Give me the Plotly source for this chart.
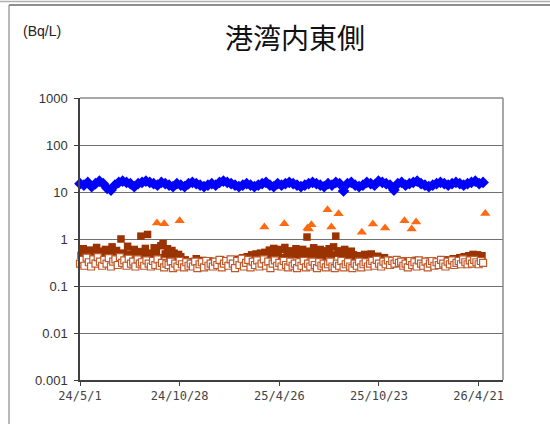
import pandas as pd
import plotly.graph_objects as go

# ---- data ----
title_text = "港湾内東側"
unit_text = "(Bq/L)"

x_tick_dates = ["2024-05-01", "2024-10-28", "2025-04-26", "2025-10-23", "2026-04-21"]
x_tick_labels = ["24/5/1", "24/10/28", "25/4/26", "25/10/23", "26/4/21"]
y_tick_vals = [0.001, 0.01, 0.1, 1, 10, 100, 1000]
y_tick_labels = ["0.001", "0.01", "0.1", "1", "10", "100", "1000"]

# weekly series (blue diamonds)
blue_vals = [
    15, 14, 16, 13, 15, 17, 15, 12, 11, 14,
    16, 17, 16, 15, 13, 15, 16, 17, 16, 15,
    14, 16, 15, 14, 13, 15, 14, 13, 15, 16,
    15, 14, 13, 14, 15, 14, 16, 17, 16, 15,
    14, 13, 14, 15, 14, 13, 14, 15, 16, 14,
    13, 15, 14, 15, 16, 15, 14, 13, 14, 15,
    16, 15, 14, 13, 15, 14, 16, 15, 10.5, 15,
    16, 14, 13, 14, 16, 15, 14, 17, 16, 15,
    14, 11, 15, 16, 14, 15, 16, 17, 15, 14,
    13, 14, 15, 16, 15, 14, 15, 16, 15, 14,
    15, 16, 17, 15, 16,
]

# 4-day series (filled brown squares); None = not detected
brown_vals = [
    0.45, 0.62, 0.36, 0.52, 0.58, 0.4, 0.48, 0.66, 0.38, 0.55,
    0.44, 0.6, 0.37, 0.5, 0.68, 0.42, 0.57, 0.46, 1.0, 0.5,
    0.4, 0.7, 0.48, 0.43, 0.6, 0.38, 0.54, 1.15, 0.47, 0.63,
    1.25, 0.5, 0.42, 0.65, 0.56, 0.4, 0.72, 0.8, 0.48, 0.62,
    0.44, 0.57, 0.5, 0.4, 0.47,
    0.42, None, 0.36, None, None, 0.33, None, 0.38, None, None,
    0.35, None, None, 0.34, None, None, 0.32, None, 0.36, None,
    None, 0.33, None, None, 0.35, None, 0.37, None, 0.4, 0.35,
    0.42, 0.38, 0.46, 0.4, 0.48, 0.42, 0.5, 0.45,
    0.52, 0.42, 0.58, 0.47, 0.63, 0.44, 0.53, 0.6, 0.4, 0.66,
    0.5, 0.43, 0.56, 0.47, 0.62, 0.52, 0.44, 0.6, 0.49, 1.1,
    0.55, 0.46, 0.65, 0.43, 0.5, 0.6, 0.41, 0.56, 0.48, 0.62,
    0.46, 0.68, 1.15, 0.5, 0.56, 0.44, 0.6, 0.48, 0.41, 0.55,
    0.46, 0.4,
    0.38, 0.44, 0.36, 0.47, 0.4, None, 0.48, 0.38, None, 0.43,
    0.37, None, 0.4, None, 0.35, None, None, 0.33, None, None,
    0.34, None, None, 0.32, None, None, 0.35, None, None, 0.33,
    None, None, 0.34, None, None, 0.32, None, None, 0.35, None,
    0.36, None, 0.34, 0.38, None, 0.36, 0.4, None, 0.42, 0.37,
    0.44, 0.38, 0.47, 0.4, 0.46, 0.42, 0.44,
]

# 4-day series (open squares)
open_vals = [
    0.3, 0.36, 0.27, 0.4, 0.32, 0.26, 0.37, 0.3, 0.41, 0.33,
    0.27, 0.36, 0.3, 0.39, 0.26, 0.33, 0.37, 0.28, 0.41, 0.31,
    0.35, 0.27, 0.38, 0.3, 0.33, 0.26, 0.37, 0.3, 0.32, 0.27,
    0.35, 0.3, 0.26, 0.34, 0.28, 0.37, 0.27, 0.31, 0.25, 0.3,
    0.28, 0.33, 0.24, 0.3, 0.26, 0.34, 0.29, 0.25, 0.32, 0.27,
    0.3, 0.26, 0.33, 0.24, 0.29, 0.32, 0.25, 0.34, 0.27, 0.3,
    0.26, 0.33, 0.28, 0.36, 0.25, 0.3, 0.34, 0.27, 0.37, 0.3,
    0.24, 0.34, 0.28, 0.38, 0.26, 0.31, 0.36, 0.25, 0.33, 0.28,
    0.35, 0.26, 0.3, 0.37, 0.27, 0.33, 0.24, 0.3, 0.35, 0.27,
    0.31, 0.26, 0.34, 0.28, 0.25, 0.33, 0.27, 0.3, 0.24, 0.32,
    0.27, 0.34, 0.25, 0.3, 0.26, 0.33, 0.28, 0.24, 0.32, 0.27,
    0.3, 0.25, 0.29, 0.33, 0.26, 0.24, 0.3, 0.27, 0.34, 0.25,
    0.29, 0.32, 0.26, 0.24, 0.3, 0.27, 0.33, 0.25, 0.29, 0.32,
    0.26, 0.3, 0.34, 0.27, 0.36, 0.3, 0.26, 0.33, 0.29, 0.35,
    0.28, 0.34, 0.3, 0.36, 0.31, 0.33, 0.27, 0.3, 0.25, 0.34,
    0.28, 0.32, 0.26, 0.35, 0.3, 0.27, 0.33, 0.25, 0.3, 0.34,
    0.27, 0.32, 0.28, 0.36, 0.3, 0.26, 0.33, 0.29, 0.35, 0.28,
    0.31, 0.34, 0.29, 0.37, 0.32, 0.29, 0.35, 0.3, 0.36, 0.32,
    0.29, 0.34, 0.31,
]

# sparse series (orange triangles)
tri_dates = [
    "2024-09-17", "2024-09-30", "2024-10-28", "2025-03-30", "2025-05-05",
    "2025-06-16", "2025-06-18", "2025-06-23", "2025-07-22", "2025-07-29",
    "2025-08-11", "2025-09-22", "2025-10-12", "2025-11-03", "2025-12-08",
    "2025-12-21", "2025-12-29", "2026-05-03",
]
tri_vals = [
    2.2, 2.1, 2.45, 1.8, 2.1,
    1.71, 1.63, 2.0, 4.2, 1.8,
    3.45, 1.39, 2.08, 1.71, 2.45,
    1.63, 2.3, 3.5,
]

blue_dates = pd.date_range("2024-05-01", periods=len(blue_vals), freq="7D")
brown_dates = pd.date_range("2024-05-03", periods=len(brown_vals), freq="4D")
open_dates = pd.date_range("2024-05-01", periods=len(open_vals), freq="4D")

x_start = "2024-05-01"
x_end = "2026-06-04"

# ---- figure ----
fig = go.Figure()

fig.add_trace(go.Scatter(
    x=brown_dates, y=brown_vals, mode="markers", cliponaxis=False,
    marker=dict(symbol="square", size=7.5, color="#9a3300",
                line=dict(width=0)),
    showlegend=False))
fig.add_trace(go.Scatter(
    x=open_dates, y=open_vals, mode="markers", cliponaxis=False,
    marker=dict(symbol="square", size=7, color="white",
                line=dict(width=1.2, color="#c0582a")),
    showlegend=False))
fig.add_trace(go.Scatter(
    x=tri_dates, y=tri_vals, mode="markers", cliponaxis=False,
    marker=dict(symbol="triangle-up", size=9, color="#ff6a10",
                line=dict(width=0)),
    showlegend=False))
fig.add_trace(go.Scatter(
    x=blue_dates, y=blue_vals, mode="markers", cliponaxis=False,
    marker=dict(symbol="diamond", size=9, color="#0000ff",
                line=dict(width=0)),
    showlegend=False))

fig.update_layout(
    width=550, height=424,
    margin=dict(l=80, r=47, t=98, b=44),
    paper_bgcolor="white", plot_bgcolor="white",
    showlegend=False,
    font=dict(family="Liberation Sans, Arial, sans-serif", size=12, color="#222"),
)

fig.update_xaxes(
    type="date", range=[x_start, x_end],
    tickvals=x_tick_dates, ticktext=x_tick_labels,
    tickfont=dict(family="DejaVu Sans Mono, monospace", size=12, color="#444"),
    ticks="outside", ticklen=4, tickcolor="#404040", tickwidth=1,
    showline=True, linecolor="#404040", linewidth=1.5,
    showgrid=False, zeroline=False,
)
fig.update_yaxes(
    type="log", range=[-3, 3],
    tickvals=y_tick_vals, ticktext=y_tick_labels,
    tickfont=dict(family="Liberation Sans, Arial, sans-serif", size=13, color="#333"),
    ticks="outside", ticklen=4, tickcolor="#404040", tickwidth=1,
    ticklabelstandoff=4,
    showline=True, linecolor="#404040", linewidth=1.5,
    showgrid=True, gridcolor="#707070", gridwidth=1,
    zeroline=False,
)

# right/top plot border (gray)
fig.add_shape(type="line", xref="paper", yref="paper", x0=1, x1=1, y0=0, y1=1,
              line=dict(color="#8a8a8a", width=1.5))
fig.add_shape(type="line", xref="paper", yref="paper", x0=0, x1=1, y0=1, y1=1,
              line=dict(color="#8a8a8a", width=1.5))

# outer frame fragments (top double line, left line)
fig.add_shape(type="line", xref="paper", yref="paper", x0=-0.19, x1=1.12,
              y0=1.3422, y1=1.3422, line=dict(color="#b0b0b0", width=1.5))
fig.add_shape(type="line", xref="paper", yref="paper", x0=-0.1678, x1=1.12,
              y0=1.3298, y1=1.3298, line=dict(color="#6a6a6a", width=1.5))
fig.add_shape(type="line", xref="paper", yref="paper", x0=-0.1678, x1=-0.1678,
              y0=1.3298, y1=-0.16, line=dict(color="#8a8a8a", width=1.2))

fig.add_annotation(text=title_text, xref="paper", yref="paper",
                   x=0.5076, y=1.2163, xanchor="center", yanchor="middle",
                   showarrow=False,
                   font=dict(family="Noto Sans CJK JP", size=28, color="#111"))
fig.add_annotation(text=unit_text, xref="paper", yref="paper",
                   x=-0.0887, y=1.2376, xanchor="center", yanchor="middle",
                   showarrow=False,
                   font=dict(family="Liberation Sans, Arial, sans-serif", size=14, color="#222"))

fig.write_html("out.html",
               config={"displayModeBar": False},
               post_script="document.body.style.margin='0';document.body.style.overflow='hidden';")
